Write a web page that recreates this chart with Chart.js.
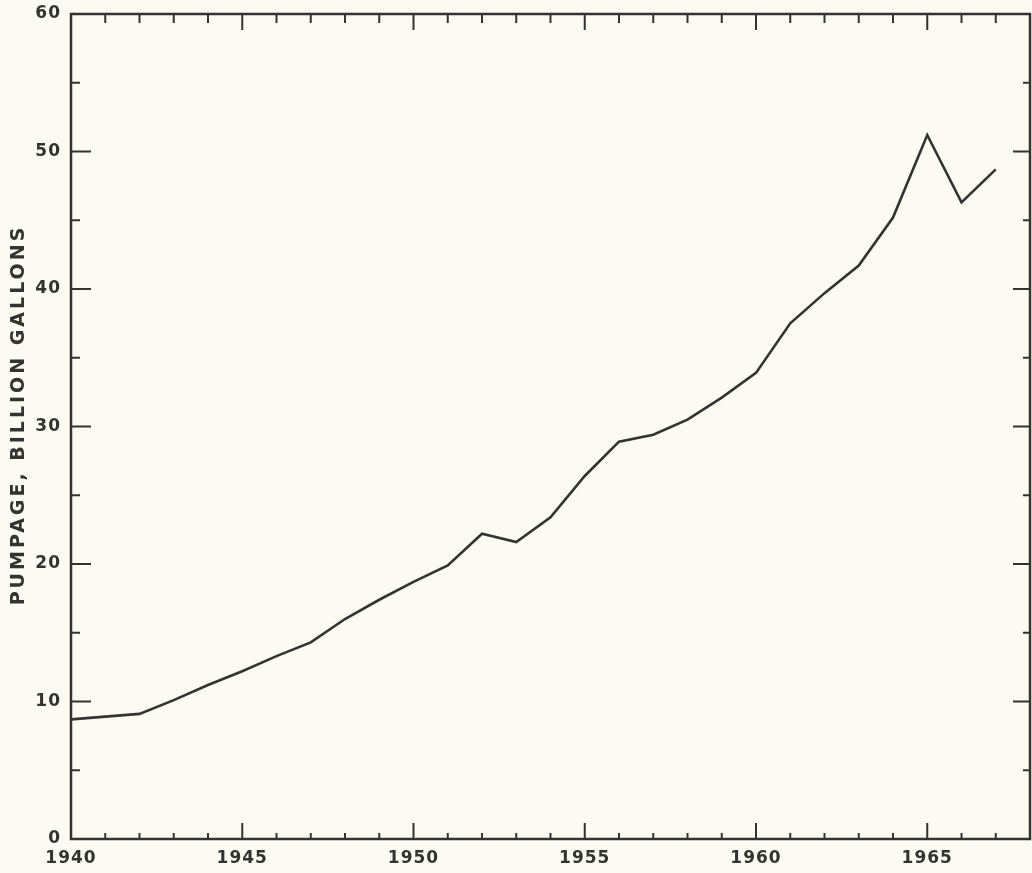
<!DOCTYPE html>
<html>
<head>
<meta charset="utf-8">
<script src="https://cdn.jsdelivr.net/npm/chart.js@4"></script>
<style>
  html, body { margin: 0; padding: 0; background: #fbfbf4; }
  canvas { display: block; }
</style>
</head>
<body>
<canvas id="grafico" width="1032" height="873"></canvas>
<script>
// anos y bombeo (billones de galones)
const anios = [1940, 1941, 1942, 1943, 1944, 1945, 1946, 1947, 1948, 1949, 1950, 1951, 1952, 1953,
               1954, 1955, 1956, 1957, 1958, 1959, 1960, 1961, 1962, 1963, 1964, 1965, 1966, 1967];
const bombeo = [8.7, 8.9, 9.1, 10.1, 11.2, 12.2, 13.3, 14.3, 16.0, 17.4, 18.7, 19.9, 22.2, 21.6,
                23.4, 26.4, 28.9, 29.4, 30.5, 32.1, 33.9, 37.5, 39.7, 41.7, 45.2, 51.2, 46.3, 48.7];
const etiquetasX = [1940, 1945, 1950, 1955, 1960, 1965];
const etiquetasY = [0, 10, 20, 30, 40, 50, 60];
const tituloY = 'PUMPAGE, BILLION GALLONS';

const tinta = '#333330';

// marco completo, marcas hacia adentro y titulo del eje y
const marcas = {
    id: 'marcas',
    beforeDraw(chart) {
        chart.ctx.letterSpacing = '1px';
    },
    afterDraw(chart) {
        const {ctx, chartArea: a, scales: {x, y}} = chart;
        ctx.save();
        ctx.strokeStyle = tinta;
        ctx.lineWidth = 2.5;
        ctx.strokeRect(a.left, a.top, a.right - a.left, a.bottom - a.top);
        ctx.lineWidth = 2;
        x.ticks.forEach(t => {
            const px = x.getPixelForValue(t.value);
            const largo = etiquetasX.includes(t.value) ? 16 : 6;
            ctx.beginPath();
            ctx.moveTo(px, a.bottom); ctx.lineTo(px, a.bottom - largo);
            ctx.moveTo(px, a.top); ctx.lineTo(px, a.top + (etiquetasX.includes(t.value) ? 16 : 9));
            ctx.stroke();
        });
        y.ticks.forEach(t => {
            const py = y.getPixelForValue(t.value);
            const mayor = etiquetasY.includes(t.value);
            ctx.beginPath();
            ctx.moveTo(a.left, py); ctx.lineTo(a.left + (mayor ? 20 : 9), py);
            ctx.moveTo(a.right, py); ctx.lineTo(a.right - (mayor ? 17 : 7), py);
            ctx.stroke();
        });

        ctx.letterSpacing = '3px';
        ctx.fillStyle = tinta;
        ctx.font = 'bold 19px "DejaVu Sans"';
        ctx.textAlign = 'center';
        ctx.textBaseline = 'middle';
        ctx.translate(19, 415);
        ctx.rotate(-Math.PI / 2);
        ctx.fillText(tituloY, 0, 0);
        ctx.restore();
    }
};

const fuente = { family: 'DejaVu Sans', weight: 'bold', size: 17 };

new Chart(document.getElementById('grafico').getContext('2d'), {
    type: 'line',
    data: {
        datasets: [{
            data: anios.map((a, i) => ({ x: a, y: bombeo[i] })),
            borderColor: tinta,
            borderWidth: 2.6,
            pointRadius: 0,
            tension: 0,
            fill: false
        }]
    },
    options: {
        responsive: false,
        animation: false,
        layout: { padding: { top: 14, right: 2, left: 0, bottom: 0 } },
        plugins: { legend: { display: false }, tooltip: { enabled: false } },
        scales: {
            x: {
                type: 'linear',
                min: 1940,
                max: 1968,
                afterFit(s) { s.height = 34; s.paddingLeft = 0; s.paddingRight = 0; },
                grid: { display: false, drawTicks: false },
                border: { display: false },
                ticks: {
                    stepSize: 1,
                    autoSkip: false,
                    maxRotation: 0,
                    padding: 9,
                    color: tinta,
                    font: fuente,
                    callback: v => etiquetasX.includes(v) ? String(v) : ''
                }
            },
            y: {
                min: 0,
                max: 60,
                afterFit(s) { s.width = 71; s.paddingTop = 0; s.paddingBottom = 0; },
                grid: { display: false, drawTicks: false },
                border: { display: false },
                ticks: {
                    stepSize: 5,
                    padding: 10,
                    color: tinta,
                    font: fuente,
                    callback: v => etiquetasY.includes(v) ? String(v) : ''
                }
            }
        }
    },
    plugins: [marcas]
});
</script>
</body>
</html>
